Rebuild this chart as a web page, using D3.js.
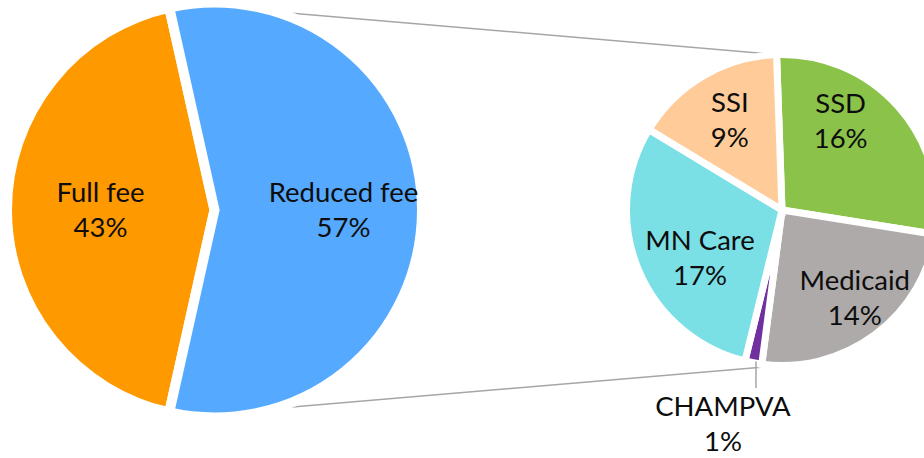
<!DOCTYPE html>
<html>
<head>
<meta charset="utf-8">
<script src="https://cdn.jsdelivr.net/npm/d3@7"></script>
<style>
  html, body { margin: 0; padding: 0; background: #fff; overflow: hidden; }
  svg { display: block; }
  text { font-family: Lato, "Open Sans", sans-serif; fill: #0d0d0d; }
</style>
</head>
<body>
<svg id="chart" width="924" height="458"></svg>
<script>
// ---- data ----
const mainCategories = ["Full fee", "Reduced fee"];
const mainValues = [43, 57];
const mainColors = ["#FF9900", "#55AAFF"];

const subCategories = ["SSD", "Medicaid", "CHAMPVA", "MN Care", "SSI"];
const subValues = [16, 14, 1, 17, 9];
const subColors = ["#8BC34A", "#AEAAAA", "#7030A0", "#7BE0E6", "#FFCC99"];

// ---- layout ----
const W = 924, H = 458;
const svg = d3.select("#chart");
const deg = Math.PI / 180;
const fontSize = 27.5, lineGap = 35;

const L = { cx: 214.5, cy: 210, r: 202.5, stroke: 10 };
const R = { cx: 782, cy: 210, r: 152, stroke: 7 };

// left pie: "Reduced fee" (the split-out slice) centered on the right
const otherShare = mainValues[1] / d3.sum(mainValues);
const otherHalf = otherShare * Math.PI;
const mainPie = d3.pie().sort(null).value(d => d)
  .startAngle(Math.PI / 2 - otherHalf)
  .endAngle(Math.PI / 2 - otherHalf + 2 * Math.PI);
const mainArcsRaw = mainPie([mainValues[1], mainValues[0]]);
const mainArcs = [
  { name: mainCategories[0], value: mainValues[0], color: mainColors[0], a: mainArcsRaw[1] },
  { name: mainCategories[1], value: mainValues[1], color: mainColors[1], a: mainArcsRaw[0] }
];

const subStart = -2 * deg;
const subPie = d3.pie().sort(null).value(d => d)
  .startAngle(subStart).endAngle(subStart + 2 * Math.PI);
const subArcsRaw = subPie(subValues);

const LR_out = L.r + L.stroke / 2;
const RR_out = R.r + R.stroke / 2;
const arcL = d3.arc().innerRadius(0).outerRadius(LR_out);
const arcR = d3.arc().innerRadius(0).outerRadius(RR_out);

// ---- connector lines (behind pies) ----
const pt = (c, rad, ang) => [c.cx + rad * Math.sin(ang), c.cy - rad * Math.cos(ang)];
const conn = svg.append("g").attr("stroke", "#A6A6A6").attr("stroke-width", 1.5).attr("fill", "none");
const lt = pt(L, LR_out - 4, 0), lb = pt(L, LR_out - 4, Math.PI);
const rt = pt(R, RR_out, subStart), rb = pt(R, RR_out, Math.PI);
conn.append("line").attr("x1", lt[0]).attr("y1", lt[1]).attr("x2", rt[0]).attr("y2", rt[1]);
conn.append("line").attr("x1", lb[0]).attr("y1", lb[1]).attr("x2", rb[0]).attr("y2", rb[1]);

// ---- left pie ----
const gL = svg.append("g").attr("transform", `translate(${L.cx},${L.cy})`);
gL.selectAll("path").data(mainArcs).enter().append("path")
  .attr("d", d => arcL(d.a))
  .attr("fill", d => d.color)
  .attr("stroke", "#fff").attr("stroke-width", L.stroke).attr("stroke-linejoin", "miter");

// ---- right pie ----
const gR = svg.append("g").attr("transform", `translate(${R.cx},${R.cy})`);
gR.selectAll("path").data(subArcsRaw).enter().append("path")
  .attr("d", d => arcR(d))
  .attr("fill", (d, i) => subColors[i])
  .attr("stroke", "#fff").attr("stroke-width", R.stroke).attr("stroke-linejoin", "miter");

// ---- labels ----
function twoLine(g, x, y, l1, l2) {
  const t = g.append("text").attr("text-anchor", "middle").attr("font-size", fontSize);
  t.append("tspan").attr("x", x).attr("y", y - lineGap / 2 + 9).text(l1);
  t.append("tspan").attr("x", x).attr("y", y + lineGap / 2 + 9).text(l2);
}
const pct = v => Math.round(v) + "%";

const labelsL = svg.append("g");
const mainNudge = [7, 8];
const mainLR = 121;
mainArcs.forEach((d, i) => {
  const mid = (d.a.startAngle + d.a.endAngle) / 2;
  const p = pt(L, mainLR, mid);
  twoLine(labelsL, p[0] + mainNudge[i], p[1], d.name, pct(d.value));
});

const labelsR = svg.append("g");
const subLR = 105;
const subNudge = { "SSD": [-20, -19], "Medicaid": [10, 4], "MN Care": [15, 8], "SSI": [1, 1.5] };
subArcsRaw.forEach((d, i) => {
  const name = subCategories[i];
  const mid = (d.startAngle + d.endAngle) / 2;
  if (name === "CHAMPVA") {
    const edge = pt(R, R.r, mid);
    labelsR.append("line")
      .attr("x1", edge[0] + 2).attr("y1", edge[1] + 2)
      .attr("x2", edge[0] + 2).attr("y2", 388)
      .attr("stroke", "#A6A6A6").attr("stroke-width", 1.5);
    twoLine(labelsR, edge[0] - 31, 424.5, name, pct(d.value));
    return;
  }
  const p = pt(R, subLR, mid);
  const n = subNudge[name] || [0, 0];
  twoLine(labelsR, p[0] + n[0], p[1] + n[1], name, pct(d.value));
});
</script>
</body>
</html>
